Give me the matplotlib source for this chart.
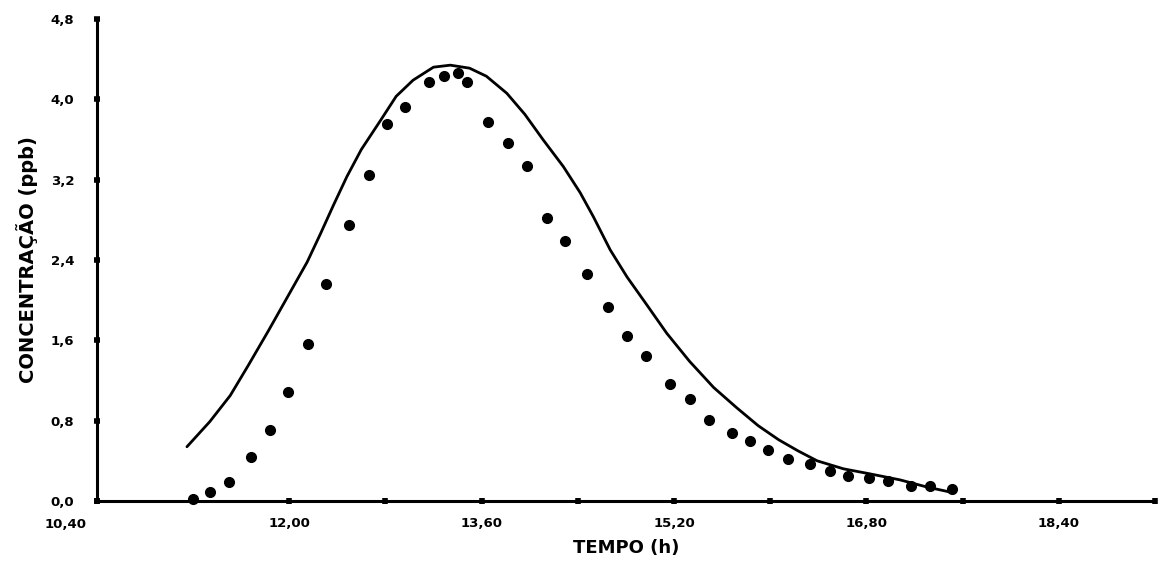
import matplotlib
matplotlib.use("Agg")
import matplotlib.pyplot as plt
from matplotlib.transforms import ScaledTranslation

# curva calculada (linha continua)
t_modelo = [11.15, 11.34, 11.51, 11.66, 11.83, 11.99, 12.15, 12.26, 12.37, 12.48,
            12.60, 12.76, 12.89, 13.03, 13.20, 13.34, 13.50, 13.64, 13.81, 13.96,
            14.11, 14.28, 14.42, 14.53, 14.67, 14.81, 14.97, 15.14, 15.33, 15.53,
            15.72, 15.90, 16.07, 16.23, 16.39, 16.61, 16.83, 17.08, 17.30, 17.53]
c_modelo = [0.54, 0.79, 1.05, 1.35, 1.70, 2.04, 2.38, 2.66, 2.95, 3.23,
            3.50, 3.79, 4.03, 4.19, 4.32, 4.34, 4.31, 4.23, 4.06, 3.85,
            3.60, 3.33, 3.07, 2.83, 2.50, 2.23, 1.96, 1.67, 1.39, 1.13,
            0.93, 0.75, 0.61, 0.50, 0.40, 0.32, 0.27, 0.21, 0.14, 0.08]

# pontos medidos
t_medido = [11.20, 11.34, 11.50, 11.68, 11.84, 11.99, 12.16, 12.31, 12.50, 12.66,
            12.81, 12.96, 13.16, 13.29, 13.40, 13.48, 13.65, 13.82, 13.98, 14.14,
            14.29, 14.48, 14.65, 14.81, 14.97, 15.17, 15.33, 15.49, 15.68, 15.83,
            15.98, 16.15, 16.33, 16.50, 16.65, 16.82, 16.98, 17.17, 17.33, 17.51]
c_medido = [0.02, 0.09, 0.19, 0.44, 0.71, 1.09, 1.56, 2.16, 2.75, 3.25,
            3.75, 3.92, 4.17, 4.23, 4.26, 4.17, 3.77, 3.56, 3.34, 2.82,
            2.59, 2.26, 1.93, 1.64, 1.44, 1.16, 1.02, 0.81, 0.68, 0.60,
            0.51, 0.42, 0.37, 0.30, 0.25, 0.23, 0.20, 0.15, 0.15, 0.12]

x_ticks = [10.40, 12.00, 13.60, 15.20, 16.80, 18.40]
x_labels = ["10,40", "12,00", "13,60", "15,20", "16,80", "18,40"]
x_minor = [11.20, 12.80, 14.40, 16.00, 17.60, 19.20]
y_ticks = [0.0, 0.8, 1.6, 2.4, 3.2, 4.0, 4.8]
y_labels = ["0,0", "0,8", "1,6", "2,4", "3,2", "4,0", "4,8"]

plt.rcParams['font.family'] = ['DejaVu Sans']

fig = plt.figure(figsize=(11.6, 5.68), dpi=100)
ax = fig.add_axes([0.0834, 0.118, 0.9123, 0.8486])

ax.plot(t_modelo, c_modelo, color='black', lw=2.0,
        solid_joinstyle='round', solid_capstyle='round')
ax.plot(t_medido, c_medido, 'o', color='black', ms=7, clip_on=False)

ax.set_xlim(10.40, 19.20)
ax.set_ylim(0, 4.8)

for s in ['top', 'right']:
    ax.spines[s].set_visible(False)
for s in ['left', 'bottom']:
    ax.spines[s].set_linewidth(2.2)

ax.set_xticks(x_ticks)
ax.set_xticklabels(x_labels, fontsize=9.5, fontweight='bold')
ax.set_xticks(x_minor, minor=True)
ax.set_yticks(y_ticks)
ax.set_yticklabels(y_labels, fontsize=9.5, fontweight='bold')

ax.tick_params(axis='both', which='both', direction='inout', length=4.5, width=4)
ax.tick_params(axis='x', which='major', pad=9)
ax.tick_params(axis='y', which='major', pad=14)

# primeiro rotulo deslocado para a esquerda da origem
lab0 = ax.get_xticklabels()[0]
lab0.set_horizontalalignment('right')
lab0.set_transform(lab0.get_transform() + ScaledTranslation(-0.1, -0.01, fig.dpi_scale_trans))

ax.set_xlabel("TEMPO (h)", fontsize=13, fontweight='bold', labelpad=6)
ax.set_ylabel("CONCENTRAÇÃO (ppb)", fontsize=14, fontweight='bold', labelpad=9)

fig.savefig("out.png", dpi=100)
